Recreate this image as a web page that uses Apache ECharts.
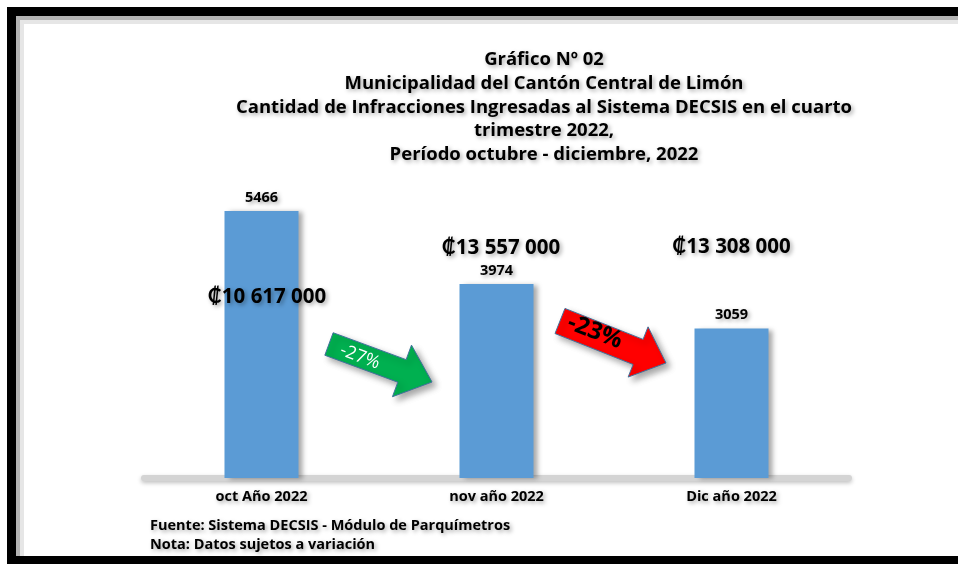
<!DOCTYPE html>
<html><head><meta charset="utf-8">
<script src="https://cdn.jsdelivr.net/npm/echarts@6/dist/echarts.min.js"></script>
<style>html,body{margin:0;padding:0;background:#fff}#c{width:958px;height:564px}</style>
</head><body><div id="c"></div>
<script>
// ---- data ----
const categories = ['oct Año 2022', 'nov año 2022', 'Dic año 2022'];
const infracciones = [5466, 3974, 3059];
const montos = ['₡10 617 000', '₡13 557 000', '₡13 308 000'];
const variaciones = ['-27%', '-23%'];
const titleLines = [
  'Gráfico Nº 02',
  'Municipalidad del Cantón Central de Limón',
  'Cantidad de Infracciones Ingresadas al Sistema DECSIS en el cuarto',
  'trimestre 2022,',
  'Período octubre - diciembre, 2022'
];
const notes = ['Fuente: Sistema DECSIS - Módulo de Parquímetros', 'Nota: Datos sujetos a variación'];

// ---- chart ----
const FONT = '"Open Sans", Lato, sans-serif';
const shadowText = {textShadowColor: 'rgba(0,0,0,0.35)', textShadowBlur: 4, textShadowOffsetX: 2, textShadowOffsetY: 2};
const chart = echarts.init(document.getElementById('c'));

function arrowPoints(sx, sy, tx, ty, sw, hw, hl) {
  const dx = tx - sx, dy = ty - sy, L = Math.hypot(dx, dy);
  const ux = dx / L, uy = dy / L, px = -uy, py = ux;
  const bx = tx - ux * hl, by = ty - uy * hl;
  return [
    [sx + px * sw / 2, sy + py * sw / 2],
    [bx + px * sw / 2, by + py * sw / 2],
    [bx + px * hw / 2, by + py * hw / 2],
    [tx, ty],
    [bx - px * hw / 2, by - py * hw / 2],
    [bx - px * sw / 2, by - py * sw / 2],
    [sx - px * sw / 2, sy - py * sw / 2]
  ];
}

const option = {
  backgroundColor: '#fff',
  animation: false,
  title: {
    text: titleLines.join('\n'),
    left: 539, top: 43, textAlign: 'center',
    textStyle: Object.assign({fontFamily: FONT, fontWeight: 'bold', fontSize: 18.5, color: '#000', lineHeight: 23.75}, shadowText)
  },
  grid: {left: 144, right: 109, top: 185, bottom: 86},
  xAxis: {
    type: 'category', data: categories,
    axisLine: {show: true, lineStyle: {color: '#d4d4d4', width: 6, shadowColor: 'rgba(0,0,0,0.25)', shadowBlur: 4, shadowOffsetY: 2}},
    axisTick: {show: false},
    axisLabel: Object.assign({margin: 11, fontFamily: FONT, fontWeight: 'bold', fontSize: 14.5, color: '#000'}, shadowText)
  },
  yAxis: {type: 'value', min: 0, max: 6000, show: false, splitLine: {show: false}},
  series: [{
    type: 'bar', data: infracciones, barWidth: 74,
    itemStyle: {color: '#5b9bd5', shadowColor: 'rgba(0,0,0,0.35)', shadowBlur: 5, shadowOffsetX: 4, shadowOffsetY: 1},
    label: Object.assign({show: true, position: 'top', distance: 6, fontFamily: FONT, fontWeight: 'bold', fontSize: 14.5, color: '#000'}, shadowText)
  }]
};
chart.setOption(option);

// layout-only positions for annotations
const montoY = [297, 248, 247];
const montoDx = [5.5, 4.5, 0];
const graphics = [];
montos.forEach((m, i) => {
  const x = chart.convertToPixel({xAxisIndex: 0}, categories[i]) + montoDx[i];
  graphics.push({type: 'text', x: x, y: montoY[i], z: 20,
    style: Object.assign({text: m, textAlign: 'center', textVerticalAlign: 'middle', font: 'bold 20.5px ' + FONT, fill: '#000'}, shadowText)});
});
// frame
graphics.push({type: 'rect', shape: {x: 7, y: 7, width: 951, height: 9}, style: {fill: '#000'}});
graphics.push({type: 'rect', shape: {x: 7, y: 7, width: 9, height: 557}, style: {fill: '#000'}});
graphics.push({type: 'rect', shape: {x: 7, y: 556, width: 951, height: 8}, style: {fill: '#000'}});
graphics.push({type: 'rect', shape: {x: 16, y: 16, width: 942, height: 4}, style: {fill: '#b4b4b4'}});
graphics.push({type: 'rect', shape: {x: 16, y: 16, width: 4, height: 540}, style: {fill: '#b4b4b4'}});
graphics.push({type: 'rect', shape: {x: 20, y: 20, width: 938, height: 4}, style: {fill: '#e6e6e6'}});
graphics.push({type: 'rect', shape: {x: 20, y: 20, width: 4, height: 536}, style: {fill: '#e6e6e6'}});
// arrows
graphics.push({type: 'polygon', z: 10, shape: {points: arrowPoints(329, 344, 432, 382, 24, 55, 32)},
  style: {fill: '#00b050', stroke: '#41719c', lineWidth: 1, shadowColor: 'rgba(0,0,0,0.35)', shadowBlur: 6, shadowOffsetX: 4, shadowOffsetY: 4}});
graphics.push({type: 'text', z: 11, x: 360, y: 357, rotation: -0.36,
  style: {text: variaciones[0], textAlign: 'center', textVerticalAlign: 'middle', font: '18px ' + FONT, fill: '#fff'}});
graphics.push({type: 'polygon', z: 10, shape: {points: arrowPoints(560, 321, 666, 363, 27, 54, 30)},
  style: {fill: '#ff0000', stroke: '#41719c', lineWidth: 1, shadowColor: 'rgba(0,0,0,0.35)', shadowBlur: 6, shadowOffsetX: 4, shadowOffsetY: 4}});
graphics.push({type: 'text', z: 11, x: 595, y: 332, rotation: -0.37,
  style: {text: variaciones[1], textAlign: 'center', textVerticalAlign: 'middle', font: 'bold 24px ' + FONT, fill: '#000'}});
// notes
notes.forEach((n, i) => {
  graphics.push({type: 'text', x: 150, y: 526 + i * 19,
    style: Object.assign({text: n, textVerticalAlign: 'middle', font: 'bold 14.5px ' + FONT, fill: '#000'}, shadowText)});
});
chart.setOption({graphic: graphics});
</script></body></html>
